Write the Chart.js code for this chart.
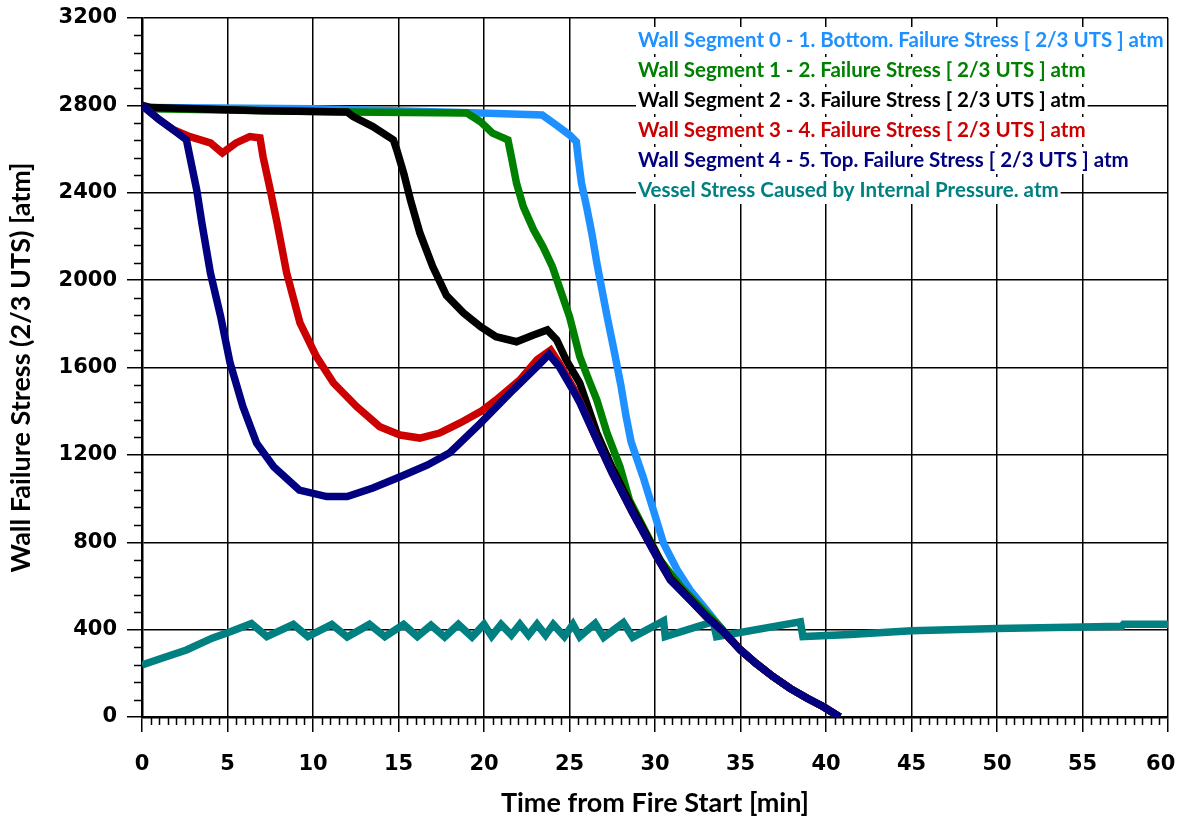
<!DOCTYPE html>
<html>
<head>
<meta charset="utf-8">
<script src="https://cdn.jsdelivr.net/npm/chart.js@4"></script>
<style>
  html, body { margin: 0; padding: 0; background: #fff; }
  #wrap { width: 1178px; height: 821px; }
</style>
</head>
<body>
<div id="wrap"><canvas id="stressChart" width="1178" height="821"></canvas></div>
<script>
// series names (legend order)
const seriesNames = [
    'Wall Segment 0 - 1. Bottom. Failure Stress [ 2/3 UTS ] atm',
    'Wall Segment 1 - 2. Failure Stress [ 2/3 UTS ] atm',
    'Wall Segment 2 - 3. Failure Stress [ 2/3 UTS ] atm',
    'Wall Segment 3 - 4. Failure Stress [ 2/3 UTS ] atm',
    'Wall Segment 4 - 5. Top. Failure Stress [ 2/3 UTS ] atm',
    'Vessel Stress Caused by Internal Pressure. atm'
];
const seriesColors = ['#1e90ff', '#008000', '#000000', '#cc0000', '#000080', '#008080'];

// Wall segment 0 (bottom)
const seg0Time   = [0, 0.5, 10, 19.8, 23.4, 24.2, 25.0, 25.4, 25.5, 25.7, 26.0, 26.3, 26.6, 26.9, 27.2, 27.6, 28.0, 28.3, 28.6, 29.3, 29.9, 30.5, 31.3, 32.05, 33.0, 33.8, 34.0, 35.0, 35.9, 36.9, 37.9, 38.9, 39.85, 40.8];
const seg0Stress = [2800, 2790, 2785, 2765, 2756, 2711, 2665, 2634, 2565, 2444, 2336, 2216, 2078, 1955, 1833, 1680, 1520, 1380, 1260, 1100, 948, 795, 673, 581, 490, 413, 393, 307, 246, 185, 131, 86, 47, 0];

// Wall segment 1
const seg1Time   = [0, 0.5, 12, 19.0, 19.8, 20.5, 21.4, 21.6, 21.9, 22.3, 22.9, 23.45, 24.0, 24.4, 25.0, 25.6, 26.2, 26.6, 27.2, 27.95, 28.5, 29.5, 30.3, 31.5, 33.0, 33.8, 35.0, 35.9, 36.9, 37.9, 38.9, 39.85, 40.8];
const seg1Stress = [2800, 2785, 2770, 2765, 2725, 2673, 2642, 2565, 2444, 2336, 2230, 2153, 2062, 1970, 1833, 1650, 1529, 1451, 1299, 1146, 994, 840, 719, 597, 474, 413, 307, 246, 185, 131, 86, 47, 0];

// Wall segment 2
const seg2Time   = [0, 0.5, 3, 7, 12.0, 12.35, 13.5, 14.7, 14.9, 15.3, 15.7, 16.25, 17.0, 17.8, 18.8, 19.8, 20.7, 21.9, 22.9, 23.7, 24.25, 24.8, 25.6, 26.6, 27.5, 28.7, 30.1, 30.9, 32.05, 33.0, 34.0, 35.0, 35.9, 36.9, 37.9, 38.9, 39.85, 40.8];
const seg2Stress = [2800, 2790, 2785, 2775, 2770, 2749, 2703, 2642, 2596, 2491, 2367, 2216, 2062, 1930, 1850, 1787, 1741, 1718, 1749, 1772, 1726, 1635, 1529, 1300, 1140, 950, 745, 635, 540, 462, 391, 307, 246, 185, 131, 86, 47, 0];

// Wall segment 3
const seg3Time   = [0, 1.0, 1.8, 2.8, 4.0, 4.7, 5.5, 6.3, 6.9, 7.08, 7.5, 7.9, 8.46, 9.24, 10.2, 11.2, 12.55, 13.9, 15.1, 16.25, 17.4, 18.6, 19.8, 20.7, 22.1, 23.1, 23.9, 24.4, 25.2, 25.6, 26.6, 27.5, 28.7, 30.1, 30.9, 32.05, 33.0, 34.0, 35.0, 35.9, 36.9, 37.9, 38.9, 39.85, 40.8];
const seg3Stress = [2800, 2735, 2690, 2657, 2628, 2582, 2628, 2657, 2651, 2565, 2413, 2262, 2033, 1804, 1650, 1529, 1421, 1329, 1291, 1277, 1300, 1346, 1398, 1451, 1543, 1635, 1680, 1620, 1510, 1445, 1268, 1117, 934, 734, 627, 536, 459, 391, 307, 246, 185, 131, 86, 47, 0];

// Wall segment 4 (top)
const seg4Time   = [0, 1.0, 1.8, 2.6, 2.8, 3.2, 3.5, 4.0, 4.6, 5.15, 5.9, 6.7, 7.7, 9.2, 10.8, 12.0, 13.5, 15.1, 16.7, 18.0, 19.8, 21.7, 23.1, 23.8, 24.4, 25.2, 25.6, 26.6, 27.5, 28.7, 30.1, 30.9, 32.05, 33.0, 34.0, 35.0, 35.9, 36.9, 37.9, 38.9, 39.85, 40.8];
const seg4Stress = [2800, 2735, 2690, 2642, 2565, 2413, 2262, 2033, 1833, 1621, 1421, 1254, 1146, 1039, 1009, 1009, 1048, 1100, 1154, 1210, 1345, 1497, 1604, 1660, 1604, 1497, 1440, 1268, 1117, 934, 734, 627, 536, 459, 391, 307, 246, 185, 131, 86, 47, 0];

// Vessel stress from internal pressure
const vesselTime   = [0, 1.2, 2.6, 4.1, 5.2, 6.4, 7.3, 8.85, 9.7, 11.1, 12.0, 13.3, 14.2, 15.3, 16.1, 16.9, 17.7, 18.5, 19.3, 20.0, 20.45, 21.0, 21.6, 22.1, 22.6, 23.1, 23.6, 24.05, 24.7, 25.2, 25.6, 26.5, 27.0, 28.15, 28.7, 30.5, 30.6, 33.4, 33.6, 38.5, 38.65, 41.4, 45, 50, 55, 57.3, 57.4, 60];
const vesselStress = [238, 270, 307, 361, 391, 428, 368, 424, 368, 424, 366, 424, 368, 424, 368, 420, 366, 424, 366, 424, 370, 424, 375, 424, 375, 424, 375, 424, 368, 424, 368, 428, 365, 432, 365, 440, 368, 436, 368, 436, 368, 378, 395, 405, 412, 415, 425, 425];

// axis ticks
const xTicks = [0, 5, 10, 15, 20, 25, 30, 35, 40, 45, 50, 55, 60];
const yTicks = [0, 400, 800, 1200, 1600, 2000, 2400, 2800, 3200];

function pairs(t, v) {
    return t.map((x, i) => ({ x: x, y: v[i] }));
}

const seriesData = [
    pairs(seg0Time, seg0Stress),
    pairs(seg1Time, seg1Stress),
    pairs(seg2Time, seg2Stress),
    pairs(seg3Time, seg3Stress),
    pairs(seg4Time, seg4Stress),
    pairs(vesselTime, vesselStress)
];
// drawing order: top segment on top, vessel underneath
const drawOrder = [5, 4, 3, 2, 1, 6];

const tickFont = { family: 'DejaVu Sans', size: 21, weight: 'bold' };

// minor ticks on both axes
const minorTicks = {
    id: 'minorTicks',
    afterDraw(chart) {
        const ctx = chart.ctx;
        const xs = chart.scales.x, ys = chart.scales.y;
        ctx.save();
        ctx.strokeStyle = '#000';
        ctx.lineWidth = 1.5;
        ctx.beginPath();
        for (let v = 0.5; v < 60; v += 0.5) {
            if (Math.abs(v % 5) < 1e-6) continue;
            const px = Math.round(xs.getPixelForValue(v)) + 0.5;
            ctx.moveTo(px, ys.bottom);
            ctx.lineTo(px, ys.bottom + 8);
        }
        for (let v = 80; v < 3200; v += 80) {
            if (v % 400 === 0) continue;
            const py = Math.round(ys.getPixelForValue(v)) + 0.5;
            ctx.moveTo(xs.left, py);
            ctx.lineTo(xs.left - 8, py);
        }
        ctx.stroke();
        ctx.restore();
    }
};

// legend inside the plot, coloured text on white
const textLegend = {
    id: 'textLegend',
    afterDatasetsDraw(chart) {
        const ctx = chart.ctx;
        ctx.save();
        ctx.font = 'bold 20.5px Lato';
        ctx.textBaseline = 'middle';
        ctx.textAlign = 'left';
        const x0 = 638;
        seriesNames.forEach((name, i) => {
            const y = 40 + i * 30;
            const w = ctx.measureText(name).width;
            ctx.fillStyle = '#fff';
            ctx.fillRect(x0 - 2, y - 13, w + 4, 27);
            ctx.fillStyle = seriesColors[i];
            ctx.fillText(name, x0, y);
        });
        ctx.restore();
    }
};

new Chart(document.getElementById('stressChart').getContext('2d'), {
    type: 'line',
    data: {
        datasets: seriesData.map((d, i) => ({
            label: seriesNames[i],
            data: d,
            borderColor: seriesColors[i],
            backgroundColor: seriesColors[i],
            borderWidth: 7.5,
            pointRadius: 0,
            tension: 0,
            fill: false,
            order: drawOrder[i]
        }))
    },
    options: {
        responsive: false,
        animation: false,
        devicePixelRatio: 1,
        layout: { padding: { top: 18, right: 10, bottom: 0, left: 0 } },
        plugins: {
            legend: { display: false },
            tooltip: { enabled: false }
        },
        scales: {
            x: {
                type: 'linear',
                min: 0,
                max: 60,
                afterBuildTicks: scale => { scale.ticks = xTicks.map(v => ({ value: v })); },
                afterFit: scale => {
                    scale.height = 104;
                    scale.paddingLeft = 0;
                    scale.paddingRight = 0;
                },
                ticks: {
                    font: tickFont, color: '#000', padding: 20, maxRotation: 0, autoSkip: false,
                    // last label sits inside the canvas edge
                    callback: v => (v === 60 ? '60  ' : String(v))
                },
                grid: { color: '#000', lineWidth: 1.5, tickLength: 15, tickColor: '#000' },
                border: { color: '#000', width: 2.5 },
                title: { display: true, text: 'Time from Fire Start [min]', font: { family: 'Lato', size: 27, weight: 'bold' }, color: '#000', padding: { top: 0, bottom: 2 } }
            },
            y: {
                type: 'linear',
                min: 0,
                max: 3200,
                afterBuildTicks: scale => { scale.ticks = yTicks.map(v => ({ value: v })); },
                afterFit: scale => {
                    scale.width = 142;
                    scale.paddingTop = 0;
                    scale.paddingBottom = 0;
                },
                ticks: { font: tickFont, color: '#000', padding: 10, callback: v => String(v) },
                grid: { color: '#000', lineWidth: 1.5, tickLength: 15, tickColor: '#000' },
                border: { color: '#000', width: 2.5 },
                title: { display: true, text: 'Wall Failure Stress (2/3 UTS) [atm]', font: { family: 'Lato', size: 27, weight: 'bold' }, color: '#000', padding: { top: 5, bottom: 0 } }
            }
        }
    },
    plugins: [minorTicks, textLegend]
});
</script>
</body>
</html>
